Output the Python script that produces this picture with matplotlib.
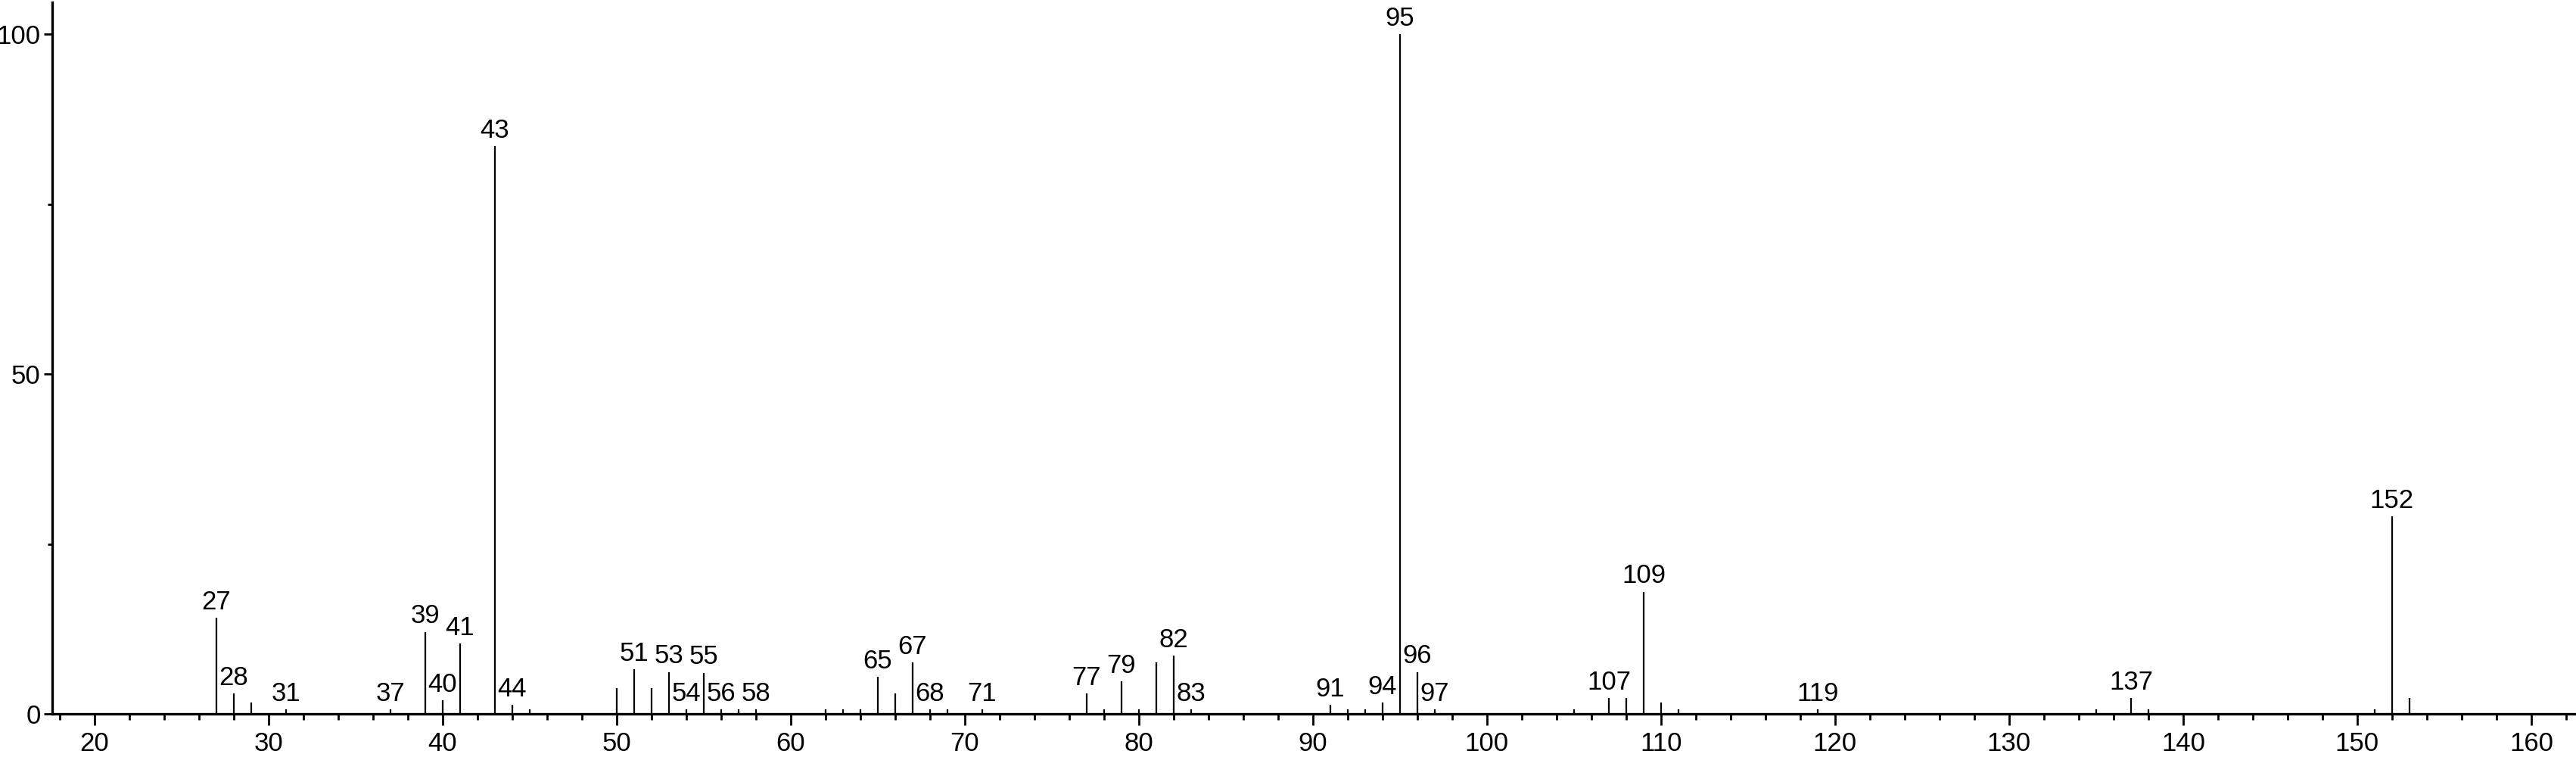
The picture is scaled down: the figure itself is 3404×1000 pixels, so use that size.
import matplotlib
matplotlib.use("Agg")
import matplotlib.pyplot as plt
from matplotlib.ticker import FixedLocator

plt.rcParams['font.family'] = ['Liberation Sans', 'DejaVu Sans']

# m/z values and relative intensities
mz = [27, 28, 29, 31, 37, 39, 40, 41, 43, 44, 45,
      50, 51, 52, 53, 54, 55, 56, 57, 58,
      62, 63, 64, 65, 66, 67, 68, 69, 71,
      77, 78, 79, 80, 81, 82, 83,
      91, 92, 93, 94, 95, 96, 97,
      105, 107, 108, 109, 110, 111, 119,
      135, 137, 138, 151, 152, 153]
intensity = [14.2, 3.0, 1.7, 0.7, 0.7, 12.1, 2.0, 10.4, 83.5, 1.4, 0.7,
             3.8, 6.6, 3.8, 6.2, 0.7, 6.1, 0.7, 0.7, 0.7,
             0.7, 0.7, 0.7, 5.5, 3.0, 7.6, 0.7, 0.7, 0.7,
             3.0, 0.7, 4.8, 0.7, 7.6, 8.6, 0.7,
             1.4, 0.7, 0.7, 1.7, 100.0, 6.2, 0.7,
             0.7, 2.4, 2.4, 18.0, 1.7, 0.7, 0.7,
             0.7, 2.4, 0.7, 0.7, 29.1, 2.4]

# peaks that carry a label
labelled = [27, 28, 31, 37, 39, 40, 41, 43, 44, 51, 53, 54, 55, 56, 58,
            65, 67, 68, 71, 77, 79, 82, 83, 91, 94, 95, 96, 97,
            107, 109, 119, 137, 152]

x_major = list(range(20, 161, 10))
x_minor = list(range(18, 163, 2))
y_major = [0, 50, 100]
y_minor = [25, 75]

fig = plt.figure(figsize=(34.04, 10), dpi=100)
ax = fig.add_axes([69 / 3404, 56.7 / 1000, 1 - 69 / 3404, (943.3 - 3) / 1000])

ax.vlines(mz, 0, intensity, color="black", lw=1.6)

for m, h in zip(mz, intensity):
    if m in labelled:
        ax.annotate(str(m), (m, h), xytext=(0, 3), textcoords="offset points",
                    ha="center", va="bottom", fontsize=25, annotation_clip=False)

ax.set_xlim(17.57, 162.57)
ax.set_ylim(0, 104.7)

ax.spines["top"].set_visible(False)
ax.spines["right"].set_visible(False)
ax.spines["left"].set_linewidth(2.4)
ax.spines["bottom"].set_linewidth(2.4)

ax.xaxis.set_major_locator(FixedLocator(x_major))
ax.xaxis.set_minor_locator(FixedLocator(x_minor))
ax.yaxis.set_major_locator(FixedLocator(y_major))
ax.yaxis.set_minor_locator(FixedLocator(y_minor))

ax.tick_params(axis="x", which="major", length=11, width=2, labelsize=25, pad=5)
ax.tick_params(axis="x", which="minor", length=6, width=2)
ax.tick_params(axis="y", which="major", length=8, width=2, labelsize=25, pad=3)
ax.tick_params(axis="y", which="minor", length=4.5, width=2)

fig.savefig("out.png", dpi=100)
